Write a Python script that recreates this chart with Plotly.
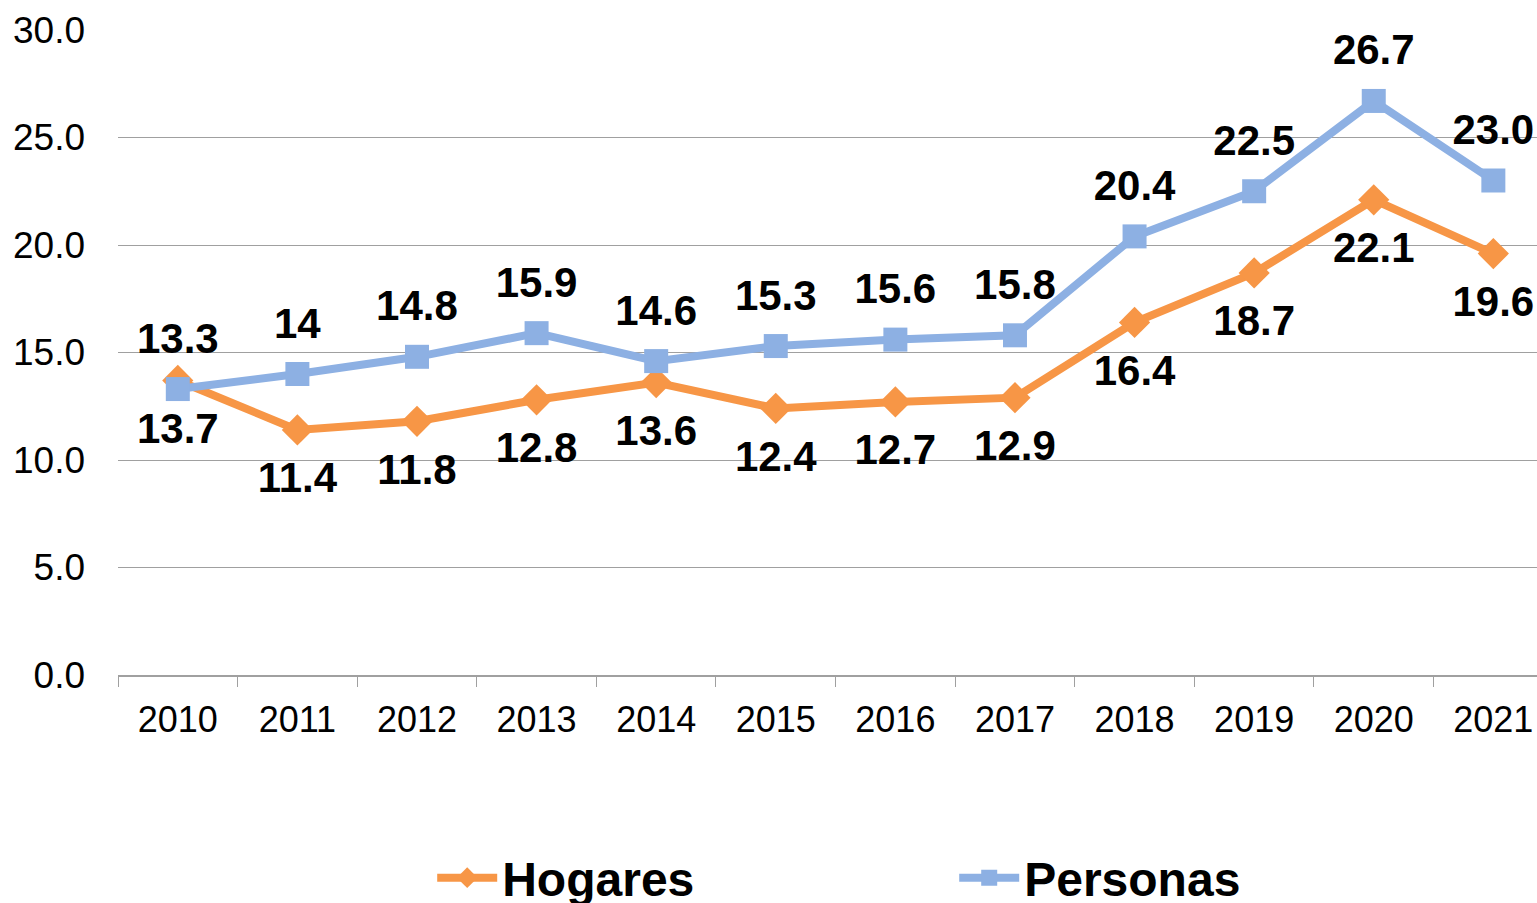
import plotly.graph_objects as go

years = ["2010", "2011", "2012", "2013", "2014", "2015", "2016", "2017", "2018", "2019", "2020", "2021"]
hogares = [13.7, 11.4, 11.8, 12.8, 13.6, 12.4, 12.7, 12.9, 16.4, 18.7, 22.1, 19.6]
personas = [13.3, 14.0, 14.8, 15.9, 14.6, 15.3, 15.6, 15.8, 20.4, 22.5, 26.7, 23.0]
hogares_labels = ["13.7", "11.4", "11.8", "12.8", "13.6", "12.4", "12.7", "12.9", "16.4", "18.7", "22.1", "19.6"]
personas_labels = ["13.3", "14", "14.8", "15.9", "14.6", "15.3", "15.6", "15.8", "20.4", "22.5", "26.7", "23.0"]
y_ticks = [0, 5, 10, 15, 20, 25, 30]

ORANGE = "#F79646"
BLUE = "#8DB0E3"
FONT = "Liberation Sans, Arial, sans-serif"
LABEL_FONT = dict(family=FONT, size=42, color="black", weight="bold")

fig = go.Figure()
fig.add_trace(go.Scatter(
    x=years, y=hogares, name="Hogares", mode="lines+markers",
    line=dict(color=ORANGE, width=8),
    marker=dict(symbol="diamond", size=24, color=ORANGE),
))
fig.add_trace(go.Scatter(
    x=years, y=personas, name="Personas", mode="lines+markers",
    line=dict(color=BLUE, width=8),
    marker=dict(symbol="square", size=24, color=BLUE),
))
# data labels
fig.add_trace(go.Scatter(
    x=years, y=hogares, mode="text+markers", showlegend=False, hoverinfo="skip",
    marker=dict(size=48, opacity=0),
    text=hogares_labels, textposition="bottom center", textfont=LABEL_FONT,
    cliponaxis=False,
))
fig.add_trace(go.Scatter(
    x=years, y=personas, mode="text+markers", showlegend=False, hoverinfo="skip",
    marker=dict(size=40, opacity=0),
    text=personas_labels, textposition="top center", textfont=LABEL_FONT,
    cliponaxis=False,
))

# The figure is a little taller than the 903px window so that the legend is
# clipped at the bottom edge, as in the reference image.
fig.update_layout(
    width=1537, height=916,
    margin=dict(l=118, r=0, t=30, b=241),
    plot_bgcolor="white", paper_bgcolor="white",
    font=dict(family=FONT, color="black"),
    showlegend=True,
    legend=dict(
        orientation="h", xref="container", yref="container",
        x=0.2812, y=0.0, xanchor="left", yanchor="bottom",
        font=dict(family=FONT, size=48, color="black", weight="bold"),
        entrywidth=447, itemwidth=60,
    ),
)
fig.update_xaxes(
    type="category", range=[-0.5, 11.365], automargin=False,
    tickson="boundaries", ticks="outside", ticklen=10, tickcolor="#A0A0A0",
    showline=True, linecolor="#A0A0A0", linewidth=1.5,
    showgrid=False, ticklabelstandoff=12,
    tickfont=dict(family=FONT, size=36, color="black"),
)
fig.update_yaxes(
    range=[0, 30], tickvals=y_ticks, ticktext=[f"{v:.1f}" for v in y_ticks],
    automargin=False,
    showgrid=True, gridcolor="#A0A0A0", gridwidth=1,
    zeroline=False, showline=False, ticks="",
    ticklabelstandoff=32,
    tickfont=dict(family=FONT, size=37, color="black"),
)

fig.write_html(
    "out.html",
    config={"displayModeBar": False},
    post_script="document.body.style.margin='0';document.body.style.overflow='hidden';",
)
